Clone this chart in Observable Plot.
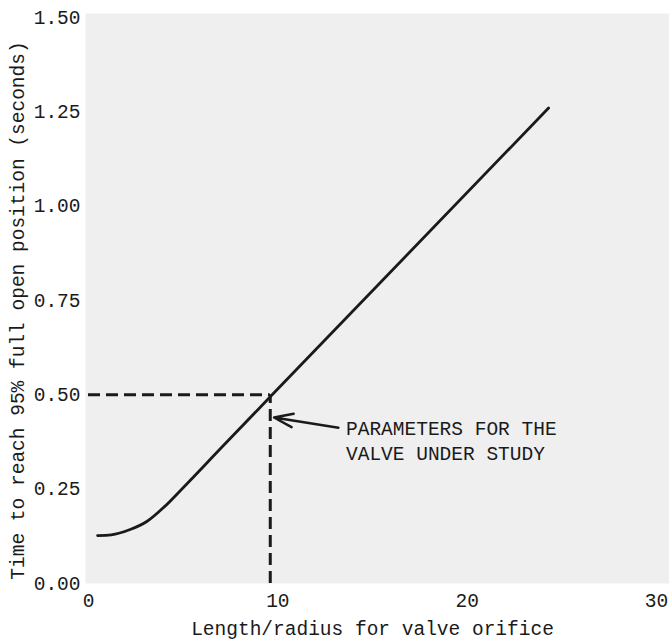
<!DOCTYPE html>
<html>
<head>
<meta charset="utf-8">
<script src="https://cdn.jsdelivr.net/npm/d3@7"></script>
<script src="https://cdn.jsdelivr.net/npm/@observablehq/plot@0.6"></script>
<style>
  html, body { margin: 0; padding: 0; background: #fff; }
  #chart svg { display: block; }
</style>
</head>
<body>
<div id="chart"></div>
<script>
// Curve: length/radius vs time to reach 95% full open position
const curveX = [0.48, 1.2, 2.2, 3.1, 4.0, 5.0, 7.0, 9.7, 24.3];
const curveY = [0.127, 0.129, 0.143, 0.165, 0.203, 0.254, 0.359, 0.5, 1.26];

// Operating point of the valve under study
const pointX = [9.6];
const pointY = [0.5];

// Annotation
const noteLines = ["PARAMETERS FOR THE", "VALVE UNDER STUDY"];
const noteX = [13.6, 13.6];
const noteY = [0.411, 0.345];
const arrowFrom = [13.2, 0.413];
const arrowTo = [9.8, 0.44];

// Ticks and labels
const xTicks = [0, 10, 20, 30];
const yTicks = [0, 0.25, 0.5, 0.75, 1.0, 1.25, 1.5];
const xTitle = "Length/radius for valve orifice";
const yTitle = "Time to reach 95% full open position (seconds)";

const curve = curveX.map((x, i) => ({x, y: curveY[i]}));
const notes = noteLines.map((t, i) => ({t, x: noteX[i], y: noteY[i]}));
const arrows = [{x1: arrowFrom[0], y1: arrowFrom[1], x2: arrowTo[0], y2: arrowTo[1]}];

const FONT = "'Liberation Mono', 'DejaVu Sans Mono', monospace";
const INK = "#1a1a1a";

const chart = Plot.plot({
  width: 669,
  height: 641,
  marginLeft: 88,
  marginRight: 13,
  marginTop: 17,
  marginBottom: 58,
  style: {fontFamily: FONT, fontSize: "19.5px", color: INK, background: "#fff"},
  x: {domain: [0, 30], ticks: xTicks, tickFormat: d3.format("d"), tickSize: 0, tickPadding: 10, label: null},
  y: {domain: [0, 1.5], ticks: yTicks, tickFormat: d3.format(".2f"), tickSize: 0, tickPadding: 8, label: null},
  marks: [
    Plot.frame({fill: "#efefef", stroke: null, insetLeft: -3, insetTop: -4, insetRight: -13}),
    Plot.ruleY(pointY, {x1: 0, x2: pointX[0], stroke: INK, strokeWidth: 3, strokeDasharray: "12,6"}),
    Plot.ruleX(pointX, {y1: 0, y2: pointY[0], stroke: INK, strokeWidth: 3, strokeDasharray: "12,6"}),
    Plot.line(curve, {x: "x", y: "y", curve: "monotone-x", stroke: INK, strokeWidth: 2.8, strokeLinecap: "round"}),
    Plot.arrow(arrows, {x1: "x1", y1: "y1", x2: "x2", y2: "y2", stroke: INK, strokeWidth: 2.5, headLength: 12, headAngle: 40}),
    Plot.text(notes, {x: "x", y: "y", text: "t", textAnchor: "start", lineAnchor: "middle", fill: INK, fontSize: 19.5, fontFamily: FONT}),
    Plot.text([xTitle], {frameAnchor: "bottom", textAnchor: "middle", dy: 45, lineAnchor: "middle", fill: INK, fontSize: 19.5, fontFamily: FONT}),
    Plot.text([yTitle], {frameAnchor: "left", textAnchor: "middle", dx: -71, dy: 10, rotate: -90, lineAnchor: "middle", fill: INK, fontSize: 19.5, fontFamily: FONT})
  ]
});
document.getElementById("chart").appendChild(chart);
</script>
</body>
</html>
